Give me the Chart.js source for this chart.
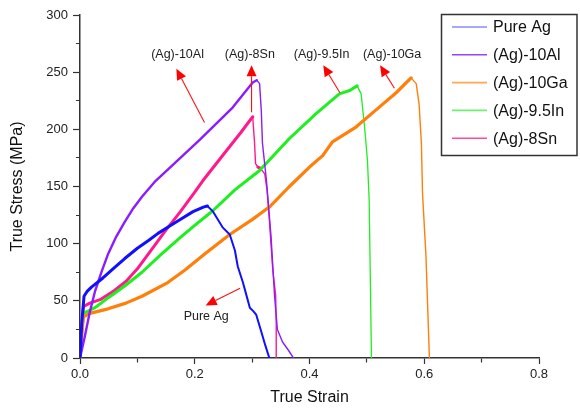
<!DOCTYPE html>
<html><head><meta charset="utf-8">
<script src="https://cdn.jsdelivr.net/npm/chart.js@4.4.1/dist/chart.umd.min.js"></script>
<style>html,body{margin:0;padding:0;background:#fff}#wrap{width:580px;height:410px}</style>
</head><body><div id="wrap"><canvas id="c" width="580" height="410"></canvas></div>
<script>
// ---- data ----
const seriesNames = ['Pure Ag', '(Ag)-10Al', '(Ag)-10Ga', '(Ag)-9.5In', '(Ag)-8Sn'];

const pureAgX = [0, 0.003, 0.007, 0.012, 0.02, 0.04, 0.06, 0.078, 0.1, 0.12, 0.136, 0.155, 0.174, 0.197, 0.215, 0.222, 0.232, 0.249, 0.261, 0.27, 0.275, 0.284, 0.29, 0.296, 0.302, 0.307, 0.316, 0.323, 0.33];
const pureAgY = [0, 30, 54, 58, 62, 70, 79, 87, 96, 103, 109, 115, 121, 128, 132, 133, 128, 114, 108, 94, 80, 66, 55, 44, 41, 38, 23, 11, 0];

const al10X = [0, 0.008, 0.017, 0.026, 0.038, 0.049, 0.063, 0.078, 0.093, 0.108, 0.13, 0.16, 0.209, 0.266, 0.301, 0.308, 0.313, 0.316, 0.318, 0.325, 0.333, 0.339, 0.344, 0.353, 0.363, 0.372];
const al10Y = [0, 18, 40, 58, 76, 91, 106, 119, 131, 141, 154, 168, 191, 219, 241, 243, 240, 216, 188, 155, 106, 55, 25, 14, 7, 0];

const ga10X = [0, 0.003, 0.006, 0.017, 0.049, 0.08, 0.108, 0.153, 0.183, 0.22, 0.261, 0.3, 0.33, 0.365, 0.4, 0.423, 0.44, 0.481, 0.516, 0.551, 0.577, 0.586, 0.591, 0.595, 0.597, 0.603, 0.609];
const ga10Y = [0, 20, 36, 39, 43, 48, 54, 66, 77, 92, 108, 121, 132, 150, 167, 177, 189, 202, 217, 232, 245, 240, 222, 188, 144, 89, 0];

const in95X = [0, 0.003, 0.006, 0.026, 0.05, 0.078, 0.108, 0.14, 0.174, 0.2, 0.232, 0.27, 0.313, 0.365, 0.412, 0.452, 0.47, 0.483, 0.49, 0.496, 0.501, 0.504, 0.506, 0.508];
const in95Y = [0, 22, 39, 44, 53, 63, 75, 90, 105, 116, 129, 147, 164, 192, 214, 231, 234, 238, 231, 202, 173, 138, 70, 0];

const sn8X = [0, 0.003, 0.006, 0.017, 0.035, 0.06, 0.08, 0.1, 0.125, 0.15, 0.175, 0.2, 0.214, 0.25, 0.28, 0.301, 0.304, 0.306, 0.31, 0.314, 0.322, 0.326, 0.33, 0.336, 0.341, 0.342, 0.342];
const sn8Y = [0, 25, 45, 48, 51, 59, 67, 78, 95, 112, 128, 145, 155, 178, 197, 211, 190, 170, 167, 166, 161, 147, 121, 77, 55, 30, 0];

const xTickLabels = ['0.0', '0.2', '0.4', '0.6', '0.8'];
const yTickLabels = ['0', '50', '100', '150', '200', '250', '300'];

// annotations (data coordinates)
const noteLabels = ['(Ag)-10Al', '(Ag)-8Sn', '(Ag)-9.5In', '(Ag)-10Ga', 'Pure Ag'];
const noteTextX = [0.17, 0.296, 0.421, 0.544, 0.22];
const noteTextY = [265, 265, 265, 265, 36];
const arrowFromX = [0.217, 0.299, 0.453, 0.548, 0.279];
const arrowFromY = [206, 215, 232, 236, 61];
const arrowToX = [0.168, 0.299, 0.424, 0.523, 0.219];
const arrowToY = [253, 256, 256, 256, 46];

// ---- styling ----
const colors = ['#1010ff', '#8a1cff', '#ff7f0a', '#1eef1e', '#ff1a8c'];
const legendColors = ['#8a8aff', '#9a40ff', '#ffa850', '#70f070', '#ff4aa0'];
const riseWidths = [3, 2.4, 3.2, 3, 3];
const fallWidths = [2, 1.4, 1.4, 1.3, 1.4];

const xs = [pureAgX, al10X, ga10X, in95X, sn8X];
const ys = [pureAgY, al10Y, ga10Y, in95Y, sn8Y];

const datasets = seriesNames.map((name, i) => ({
  label: name,
  data: xs[i].map((x, k) => ({x: x, y: ys[i][k]})),
  borderColor: colors[i],
  borderWidth: riseWidths[i],
  pointRadius: 0,
  tension: 0,
  fill: false,
  borderJoinStyle: 'round',
  borderCapStyle: 'round',
  segment: {
    borderWidth: ctx => (ctx.p1.parsed.y < ctx.p0.parsed.y - 1 ? fallWidths[i] : riseWidths[i])
  }
}));

const FONT = 'Liberation Sans, Arial, Helvetica, sans-serif';

const notesPlugin = {
  id: 'notes',
  afterDatasetsDraw(chart) {
    const c = chart.ctx, xS = chart.scales.x, yS = chart.scales.y;
    c.save();
    for (let i = 0; i < noteLabels.length; i++) {
      const x1 = xS.getPixelForValue(arrowFromX[i]), y1 = yS.getPixelForValue(arrowFromY[i]);
      const x2 = xS.getPixelForValue(arrowToX[i]), y2 = yS.getPixelForValue(arrowToY[i]);
      const ang = Math.atan2(y2 - y1, x2 - x1);
      const hl = 11, hw = 5;
      const bx = x2 - hl * Math.cos(ang), by = y2 - hl * Math.sin(ang);
      c.strokeStyle = '#ff1010';
      c.lineWidth = 1.1;
      c.beginPath(); c.moveTo(x1, y1); c.lineTo(bx, by); c.stroke();
      c.fillStyle = '#ff0000';
      c.beginPath();
      c.moveTo(x2, y2);
      c.lineTo(bx + hw * Math.sin(ang), by - hw * Math.cos(ang));
      c.lineTo(bx - hw * Math.sin(ang), by + hw * Math.cos(ang));
      c.closePath(); c.fill();
      c.fillStyle = '#222';
      c.font = '12.5px ' + FONT;
      c.textAlign = 'center'; c.textBaseline = 'middle';
      c.fillText(noteLabels[i], xS.getPixelForValue(noteTextX[i]), yS.getPixelForValue(noteTextY[i]));
    }
    c.restore();
  },
  afterDraw(chart) {
    const c = chart.ctx;
    c.save();
    c.strokeStyle = '#333';
    c.lineWidth = 1.5;
    c.fillStyle = '#fff';
    c.fillRect(441.5, 14.5, 135.5, 141);
    c.strokeRect(441.5, 14.5, 135.5, 141);
    c.font = '16px ' + FONT;
    c.textAlign = 'left'; c.textBaseline = 'middle';
    for (let i = 0; i < seriesNames.length; i++) {
      const yy = 27 + i * 27.8;
      c.strokeStyle = legendColors[i];
      c.lineWidth = 1.6;
      c.beginPath(); c.moveTo(452, yy); c.lineTo(487, yy); c.stroke();
      c.fillStyle = '#111';
      c.fillText(seriesNames[i], 493, yy + 1);
    }
    c.restore();
  }
};

new Chart(document.getElementById('c'), {
  type: 'line',
  data: {datasets: datasets},
  plugins: [notesPlugin],
  options: {
    responsive: false,
    animation: false,
    events: [],
    layout: {padding: {top: 15, right: 41, left: 0, bottom: 0}},
    plugins: {legend: {display: false}, tooltip: {enabled: false}},
    scales: {
      x: {
        type: 'linear', min: 0, max: 0.8,
        ticks: {
          stepSize: 0.1, autoSkip: false, maxRotation: 0, padding: 3,
          color: '#222', font: {family: FONT, size: 13},
          callback: v => { const k = Math.round(v * 10); return k % 2 === 0 ? xTickLabels[k / 2] : ''; }
        },
        grid: {
          drawOnChartArea: false, drawTicks: true, tickLength: 6,
          tickColor: '#333', tickWidth: 1.2,
          tickBorderDash: ctx => (Math.round(ctx.tick.value * 10) % 2 === 0 ? [] : [4, 100])
        },
        border: {display: true, color: '#333', width: 1.5},
        title: {display: true, text: 'True Strain', color: '#111', font: {family: FONT, size: 16}, padding: {top: 0, bottom: 2.5}},
        afterFit: s => { s.height = 52; }
      },
      y: {
        type: 'linear', min: 0, max: 300,
        ticks: {
          stepSize: 25, autoSkip: false, padding: 5,
          color: '#222', font: {family: FONT, size: 13},
          callback: v => { const k = Math.round(v / 25); return k % 2 === 0 ? yTickLabels[k / 2] : ''; }
        },
        grid: {
          drawOnChartArea: false, drawTicks: true, tickLength: 7,
          tickColor: '#333', tickWidth: 1.2,
          tickBorderDash: ctx => (Math.round(ctx.tick.value / 25) % 2 === 0 ? [] : [0, 3, 4, 100])
        },
        border: {display: true, color: '#333', width: 1.5},
        title: {display: true, text: 'True Stress (MPa)', color: '#111', font: {family: FONT, size: 16}, padding: {top: 7.5, bottom: 0}},
        afterFit: s => { s.width = 80; }
      }
    }
  }
});
</script>
</body></html>
